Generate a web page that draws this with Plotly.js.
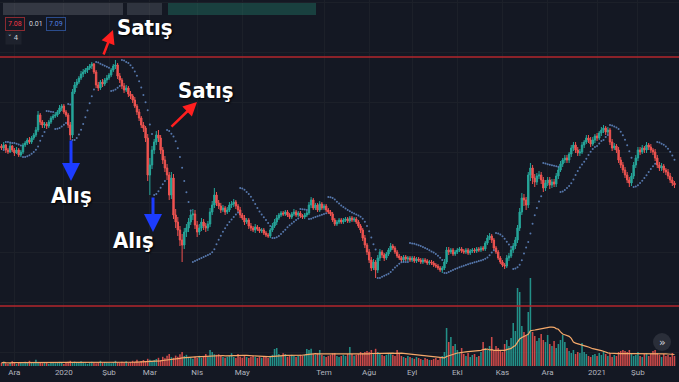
<!DOCTYPE html>
<html>
<head>
<meta charset="utf-8">
<script src="https://cdn.plot.ly/plotly-3.0.1.min.js"></script>
<style>html,body{margin:0;padding:0;background:#141823;}#chart{width:679px;height:382px;}</style>
</head>
<body>
<div id="chart"></div>
<script>
// ---- data ----
const tickLabels = ["Ara","2020","Şub","Mar","Nis","May","Tem","Ağu","Eyl","Ekl","Kas","Ara","2021","Şub"];
const tickIdx = [6,29,50,69,91,112,150,171,191,212,233,254,277,296];

const open = [
7.86,7.82,7.88,7.78,7.74,7.86,7.78,7.72,7.78,7.68,
7.74,7.88,7.92,7.98,7.94,8.02,8.08,8.18,8.48,8.34,
8.28,8.30,8.26,8.34,8.42,8.46,8.48,8.54,8.62,8.66,
8.54,8.48,8.28,8.08,8.94,9.08,9.14,9.22,9.30,9.34,
9.38,9.42,9.46,9.50,9.34,9.08,9.02,9.14,9.10,9.18,
9.22,9.28,9.38,9.46,9.48,9.26,9.18,9.06,8.98,9.02,
8.90,8.86,8.78,8.66,8.54,8.42,8.28,8.22,8.02,7.28,
7.48,7.78,7.94,8.08,8.02,7.78,7.58,7.42,7.28,6.88,
7.22,6.48,6.34,6.18,5.98,5.88,6.14,6.22,6.34,6.48,
6.50,6.28,6.14,6.22,6.34,6.26,6.22,6.30,6.54,6.68,
6.88,6.72,6.66,6.58,6.62,6.54,6.58,6.68,6.70,6.74,
6.66,6.58,6.48,6.42,6.34,6.38,6.26,6.22,6.18,6.24,
6.20,6.16,6.18,6.12,6.08,6.06,6.18,6.26,6.34,6.42,
6.48,6.52,6.50,6.54,6.48,6.44,6.50,6.54,6.48,6.52,
6.46,6.44,6.48,6.52,6.68,6.78,6.62,6.68,6.58,6.70,
6.62,6.66,6.58,6.54,6.50,6.38,6.30,6.34,6.38,6.34,
6.38,6.40,6.36,6.42,6.38,6.40,6.34,6.26,6.18,6.02,
5.88,5.74,5.58,5.42,5.54,5.38,5.62,5.74,5.68,5.62,
5.70,5.78,5.86,5.82,5.74,5.66,5.62,5.58,5.64,5.60,
5.62,5.58,5.62,5.56,5.60,5.58,5.54,5.58,5.56,5.52,
5.54,5.52,5.48,5.46,5.42,5.38,5.42,5.54,5.78,5.74,
5.78,5.70,5.74,5.78,5.80,5.76,5.74,5.78,5.72,5.76,
5.78,5.76,5.80,5.78,5.82,5.80,5.92,6.02,6.06,5.98,
5.82,5.74,5.62,5.54,5.48,5.46,5.62,5.66,5.78,5.86,
5.98,6.22,6.54,6.82,6.78,6.68,7.28,7.42,7.22,7.14,
7.26,7.28,7.18,7.02,7.12,7.18,7.08,7.14,7.10,7.26,
7.38,7.50,7.58,7.62,7.58,7.70,7.82,7.88,7.78,7.72,
7.74,7.88,7.94,8.02,7.98,7.90,7.98,8.06,8.02,8.12,
8.18,8.22,8.14,8.18,7.94,7.82,7.86,7.78,7.58,7.48,
7.38,7.28,7.18,7.12,7.26,7.48,7.62,7.78,7.74,7.82,
7.78,7.88,7.84,7.78,7.74,7.62,7.48,7.42,7.46,7.38,
7.34,7.26,7.18,7.12];

const high = [
7.90,7.94,7.90,7.82,7.92,7.88,7.82,7.84,7.82,7.78,
7.92,7.96,8.02,8.04,8.06,8.12,8.24,8.56,8.52,8.38,
8.34,8.34,8.38,8.46,8.50,8.54,8.58,8.68,8.70,8.70,
8.58,8.52,8.34,9.00,9.14,9.20,9.26,9.36,9.40,9.42,
9.46,9.50,9.54,9.52,9.38,9.14,9.18,9.20,9.22,9.28,
9.32,9.42,9.50,9.58,9.52,9.32,9.22,9.12,9.08,9.06,
8.96,8.90,8.84,8.70,8.60,8.46,8.34,8.26,8.10,7.62,
7.86,8.00,8.16,8.18,8.08,7.84,7.66,7.50,7.34,7.34,
7.30,6.60,6.44,6.26,6.10,6.22,6.30,6.42,6.56,6.60,
6.58,6.36,6.30,6.42,6.40,6.32,6.36,6.62,6.76,7.02,
6.94,6.78,6.72,6.68,6.66,6.64,6.74,6.76,6.80,6.78,
6.70,6.64,6.52,6.48,6.42,6.42,6.32,6.26,6.30,6.28,
6.24,6.22,6.22,6.16,6.12,6.22,6.32,6.40,6.48,6.52,
6.56,6.56,6.58,6.58,6.52,6.54,6.60,6.58,6.56,6.56,
6.50,6.52,6.56,6.74,6.84,6.82,6.72,6.72,6.76,6.74,
6.70,6.70,6.62,6.58,6.54,6.42,6.38,6.42,6.42,6.42,
6.44,6.44,6.46,6.46,6.44,6.44,6.38,6.30,6.22,6.08,
5.92,5.80,5.64,5.60,5.58,5.68,5.80,5.78,5.72,5.74,
5.82,5.92,5.90,5.86,5.78,5.70,5.66,5.68,5.68,5.66,
5.66,5.66,5.66,5.64,5.64,5.62,5.62,5.62,5.60,5.58,
5.58,5.56,5.52,5.50,5.46,5.46,5.60,5.84,5.84,5.82,
5.82,5.78,5.82,5.84,5.84,5.80,5.82,5.82,5.80,5.82,
5.82,5.84,5.84,5.86,5.86,5.96,6.08,6.12,6.10,6.02,
5.86,5.78,5.66,5.58,5.52,5.68,5.72,5.82,5.92,6.04,
6.28,6.62,6.92,6.90,6.84,7.34,7.52,7.48,7.30,7.32,
7.36,7.34,7.24,7.18,7.24,7.24,7.20,7.20,7.32,7.44,
7.56,7.62,7.68,7.68,7.74,7.88,7.94,7.94,7.84,7.80,
7.94,7.98,8.08,8.08,8.04,8.04,8.10,8.12,8.16,8.24,
8.28,8.26,8.24,8.22,8.00,7.92,7.90,7.84,7.64,7.54,
7.44,7.34,7.24,7.32,7.54,7.68,7.84,7.84,7.88,7.86,
7.94,7.92,7.90,7.82,7.80,7.68,7.54,7.52,7.50,7.42,
7.40,7.32,7.24,7.16];

const low = [
7.78,7.80,7.72,7.70,7.72,7.74,7.66,7.70,7.64,7.64,
7.70,7.84,7.88,7.90,7.90,7.98,8.04,8.14,8.28,8.22,
8.22,8.20,8.22,8.30,8.38,8.42,8.44,8.50,8.56,8.50,
8.44,8.22,7.98,8.02,8.90,9.02,9.10,9.18,9.24,9.30,
9.32,9.38,9.40,9.30,9.02,8.96,8.98,9.04,9.06,9.12,
9.18,9.24,9.34,9.40,9.20,9.12,9.00,8.92,8.94,8.84,
8.80,8.72,8.62,8.48,8.36,8.22,8.14,7.94,7.16,6.88,
7.40,7.70,7.88,7.94,7.70,7.50,7.34,7.18,6.78,6.80,
6.40,6.22,6.06,5.86,5.54,5.80,6.04,6.14,6.28,6.38,
6.20,6.04,6.08,6.16,6.18,6.14,6.16,6.24,6.48,6.62,
6.66,6.60,6.52,6.54,6.48,6.50,6.54,6.62,6.64,6.60,
6.54,6.42,6.38,6.28,6.30,6.20,6.16,6.14,6.12,6.16,
6.12,6.12,6.08,6.04,6.02,6.02,6.14,6.22,6.28,6.38,
6.44,6.46,6.46,6.44,6.40,6.40,6.46,6.44,6.44,6.42,
6.40,6.40,6.44,6.48,6.62,6.58,6.58,6.54,6.54,6.58,
6.58,6.54,6.50,6.46,6.34,6.26,6.26,6.30,6.30,6.30,
6.34,6.32,6.32,6.34,6.34,6.30,6.22,6.12,5.96,5.82,
5.68,5.52,5.36,5.38,5.22,5.32,5.56,5.62,5.56,5.58,
5.66,5.74,5.78,5.70,5.62,5.58,5.54,5.54,5.56,5.56,
5.54,5.54,5.52,5.52,5.54,5.50,5.50,5.52,5.48,5.48,
5.48,5.44,5.42,5.38,5.34,5.32,5.38,5.50,5.68,5.70,
5.66,5.66,5.70,5.74,5.72,5.70,5.70,5.68,5.68,5.72,
5.72,5.72,5.74,5.74,5.76,5.76,5.88,5.98,5.92,5.78,
5.70,5.58,5.50,5.44,5.40,5.42,5.56,5.62,5.72,5.80,
5.92,6.16,6.48,6.66,6.58,6.62,7.16,7.10,7.04,7.08,
7.20,7.10,6.94,6.96,7.06,7.00,7.02,7.04,7.04,7.20,
7.34,7.44,7.52,7.52,7.52,7.64,7.76,7.72,7.66,7.66,
7.70,7.82,7.90,7.92,7.84,7.86,7.92,7.96,7.98,8.06,
8.12,8.08,8.10,7.88,7.76,7.78,7.72,7.52,7.42,7.32,
7.22,7.12,7.04,7.06,7.20,7.42,7.56,7.68,7.70,7.72,
7.72,7.78,7.72,7.68,7.56,7.42,7.36,7.36,7.32,7.28,
7.20,7.12,7.06,7.02];

const close = [
7.82,7.88,7.78,7.74,7.86,7.78,7.72,7.78,7.68,7.74,
7.88,7.92,7.98,7.94,8.02,8.08,8.18,8.48,8.34,8.28,
8.30,8.26,8.34,8.42,8.46,8.48,8.54,8.62,8.66,8.54,
8.48,8.28,8.08,8.94,9.08,9.14,9.22,9.30,9.34,9.38,
9.42,9.46,9.50,9.34,9.08,9.02,9.14,9.10,9.18,9.22,
9.28,9.38,9.46,9.48,9.26,9.18,9.06,8.98,9.02,8.90,
8.86,8.78,8.66,8.54,8.42,8.28,8.22,8.02,7.28,7.48,
7.78,7.94,8.08,8.02,7.78,7.58,7.42,7.28,6.88,7.22,
6.48,6.34,6.18,5.98,5.88,6.14,6.22,6.34,6.48,6.50,
6.28,6.14,6.22,6.34,6.26,6.22,6.30,6.54,6.68,6.88,
6.72,6.66,6.58,6.62,6.54,6.58,6.68,6.70,6.74,6.66,
6.58,6.48,6.42,6.34,6.38,6.26,6.22,6.18,6.24,6.20,
6.16,6.18,6.12,6.08,6.06,6.18,6.26,6.34,6.42,6.48,
6.52,6.50,6.54,6.48,6.44,6.50,6.54,6.48,6.52,6.46,
6.44,6.48,6.52,6.68,6.78,6.62,6.68,6.58,6.70,6.62,
6.66,6.58,6.54,6.50,6.38,6.30,6.34,6.38,6.34,6.38,
6.40,6.36,6.42,6.38,6.40,6.34,6.26,6.18,6.02,5.88,
5.74,5.58,5.42,5.54,5.38,5.62,5.74,5.68,5.62,5.70,
5.78,5.86,5.82,5.74,5.66,5.62,5.58,5.64,5.60,5.62,
5.58,5.62,5.56,5.60,5.58,5.54,5.58,5.56,5.52,5.54,
5.52,5.48,5.46,5.42,5.38,5.42,5.54,5.78,5.74,5.78,
5.70,5.74,5.78,5.80,5.76,5.74,5.78,5.72,5.76,5.78,
5.76,5.80,5.78,5.82,5.80,5.92,6.02,6.06,5.98,5.82,
5.74,5.62,5.54,5.48,5.46,5.62,5.66,5.78,5.86,5.98,
6.22,6.54,6.82,6.78,6.68,7.28,7.42,7.22,7.14,7.26,
7.28,7.18,7.02,7.12,7.18,7.08,7.14,7.10,7.26,7.38,
7.50,7.58,7.62,7.58,7.70,7.82,7.88,7.78,7.72,7.74,
7.88,7.94,8.02,7.98,7.90,7.98,8.06,8.02,8.12,8.18,
8.22,8.14,8.18,7.94,7.82,7.86,7.78,7.58,7.48,7.38,
7.28,7.18,7.12,7.26,7.48,7.62,7.78,7.74,7.82,7.78,
7.88,7.84,7.78,7.74,7.62,7.48,7.42,7.46,7.38,7.34,
7.26,7.18,7.12,7.08];

// volume, thousand lots
const volume = [
160,210,140,110,150,240,170,100,190,150,
140,210,150,260,150,190,310,200,160,140,
200,150,110,160,190,140,150,210,160,100,
150,210,260,160,220,150,200,240,160,140,
110,150,210,160,140,190,260,150,200,160,
150,140,200,260,190,160,210,190,240,150,
200,260,210,310,190,250,300,240,360,310,
260,300,350,410,300,460,390,510,600,440,
410,520,460,590,700,500,560,450,410,360,
460,400,510,410,450,600,490,800,700,590,
560,590,500,450,410,460,500,640,450,400,
600,460,410,500,450,400,460,510,450,400,
460,410,500,450,400,510,560,850,900,600,
510,640,600,460,500,560,500,450,510,560,
500,560,850,800,860,600,560,640,800,560,
500,450,510,560,640,650,500,450,500,560,
500,600,950,600,510,560,600,700,650,700,
750,700,800,650,860,700,600,560,500,560,
600,650,560,500,800,600,500,450,400,500,
450,400,360,450,400,350,300,400,350,300,
300,350,400,300,450,500,700,1900,1200,1450,
1000,1100,800,700,900,600,500,650,450,550,
600,450,500,700,1200,900,800,1000,1450,800,
1000,900,800,700,1100,1300,1000,1400,2150,1750,
3900,3700,2000,1700,1500,2700,4400,1700,1500,1250,
1400,1600,1300,1200,1550,1100,1000,1250,900,1100,
1300,1550,1200,900,750,650,800,600,700,650,
1150,700,600,500,450,550,600,500,650,550,
750,600,500,650,450,550,500,700,750,800,
750,700,800,600,500,550,700,500,450,600,
650,500,600,750,800,650,550,450,600,500,
550,450,650,500];

// user-drawn horizontal levels
const levels = [9.64, 4.66];

// ---- indicators computed from the data ----
const idx = close.map((_, i) => i);

function parabolicSar(h, l, c) {
  const out = [null];
  let up = c[1] > c[0];
  let af = 0.02, ep = up ? h[0] : l[0], sar = up ? l[0] : h[0];
  for (let i = 1; i < c.length; i++) {
    let s = sar + af * (ep - sar);
    if (up) {
      s = Math.min(s, l[i - 1], l[Math.max(i - 2, 0)]);
      if (l[i] < s) { up = false; s = ep; ep = l[i]; af = 0.02; }
      else if (h[i] > ep) { ep = h[i]; af = Math.min(af + 0.02, 0.2); }
    } else {
      s = Math.max(s, h[i - 1], h[Math.max(i - 2, 0)]);
      if (h[i] > s) { up = true; s = ep; ep = h[i]; af = 0.02; }
      else if (l[i] < ep) { ep = l[i]; af = Math.min(af + 0.02, 0.2); }
    }
    sar = s; out.push(s);
  }
  return out;
}
function sma(v, n) {
  return v.map((_, i) => {
    const a = Math.max(0, i - n + 1);
    let s = 0; for (let k = a; k <= i; k++) s += v[k];
    return s / (i - a + 1);
  });
}
const sar = parabolicSar(high, low, close);
const volMa = sma(volume, 20);
const volColors = close.map((c, i) => c >= open[i] ? 'rgba(38,166,154,0.85)' : 'rgba(239,83,80,0.85)');

const UP = '#26a69a', DN = '#ef5350', BG = '#141823';

const traces = [
  { type: 'bar', x: idx, y: volume, yaxis: 'y2', marker: { color: volColors, line: { width: 0 } }, width: 0.72, hoverinfo: 'skip' },
  { type: 'scatter', mode: 'lines', x: idx, y: volMa, yaxis: 'y2', line: { color: '#f5a96a', width: 1.2 }, hoverinfo: 'skip' },
  { type: 'candlestick', x: idx, open: open, high: high, low: low, close: close,
    increasing: { line: { color: UP, width: 1 }, fillcolor: UP },
    decreasing: { line: { color: DN, width: 1 }, fillcolor: DN },
    whiskerwidth: 0, hoverinfo: 'skip' },
  { type: 'scatter', mode: 'markers', x: idx, y: sar, marker: { size: 2, color: 'rgba(98,136,196,0.85)' }, hoverinfo: 'skip' }
];

const H = 366; // plot height in px
const px = x => x / 679, py = y => (H - y) / H;
const labelFont = { family: 'DejaVu Sans Condensed, Liberation Sans Narrow, Arial Narrow, sans-serif', size: 22, color: '#ffffff', weight: 'bold', shadow: '1px 1px 2px #000' };
const C = { xanchor: 'center', yanchor: 'middle', xref: 'paper', yref: 'paper' };

const annotations = [
  Object.assign({ x: px(145), y: py(28), text: 'Satış', showarrow: false, font: labelFont }, C),
  Object.assign({ x: px(206), y: py(90), text: 'Satış', showarrow: false, font: labelFont }, C),
  Object.assign({ x: px(71), y: py(195), text: 'Alış', showarrow: false, font: labelFont }, C),
  Object.assign({ x: px(133), y: py(241), text: 'Alış', showarrow: false, font: labelFont }, C),
  { xref: 'paper', yref: 'paper', x: px(113), y: py(30), ax: -10, ay: 26, text: '', showarrow: true, arrowhead: 2, arrowsize: 1.1, arrowwidth: 2.5, arrowcolor: '#ff1f1f', standoff: 0 },
  { xref: 'paper', yref: 'paper', x: px(197), y: py(102), ax: -27, ay: 26, text: '', showarrow: true, arrowhead: 2, arrowsize: 1.1, arrowwidth: 2.5, arrowcolor: '#ff1f1f', standoff: 0 },
  { xref: 'paper', yref: 'paper', x: px(71), y: py(181), ax: 0, ay: -42, text: '', showarrow: true, arrowhead: 2, arrowsize: 1.2, arrowwidth: 3, arrowcolor: '#1c3cff', standoff: 0 },
  { xref: 'paper', yref: 'paper', x: px(153), y: py(232), ax: 0, ay: -36, text: '', showarrow: true, arrowhead: 2, arrowsize: 1.2, arrowwidth: 3, arrowcolor: '#1c3cff', standoff: 0 },
  Object.assign({ x: px(15), y: py(24), text: '7.08', showarrow: false, font: { family: 'Roboto, sans-serif', size: 7, color: '#f23645' }, bordercolor: '#8a2a31', borderwidth: 1, borderpad: 2, bgcolor: BG }, C),
  Object.assign({ x: px(35.5), y: py(24), text: '0.01', showarrow: false, font: { family: 'Roboto, sans-serif', size: 7, color: '#d1d4dc' } }, C),
  Object.assign({ x: px(56), y: py(24), text: '7.09', showarrow: false, font: { family: 'Roboto, sans-serif', size: 7, color: '#4f7fe0' }, bordercolor: '#2b4c8c', borderwidth: 1, borderpad: 2, bgcolor: BG }, C),
  Object.assign({ x: px(13), y: py(38), text: '˅ 4', showarrow: false, font: { family: 'DejaVu Sans, sans-serif', size: 7, color: '#d1d4dc' }, bgcolor: '#1e222d', borderpad: 2 }, C),
  Object.assign({ x: px(662), y: py(342), text: '»', showarrow: false, font: { family: 'DejaVu Sans, sans-serif', size: 11, color: '#d1d4dc' } }, C)
];

const shapes = levels.map(v => ({ type: 'line', xref: 'paper', x0: 0, x1: 1, yref: 'y', y0: v, y1: v, line: { color: '#b3262d', width: 1.5 } }));
shapes.push(
  { type: 'rect', xref: 'paper', yref: 'paper', x0: px(3), x1: px(123), y0: py(15), y1: py(3), fillcolor: 'rgba(120,124,136,0.32)', line: { width: 0 } },
  { type: 'rect', xref: 'paper', yref: 'paper', x0: px(127), x1: px(162), y0: py(15), y1: py(3), fillcolor: 'rgba(120,124,136,0.28)', line: { width: 0 } },
  { type: 'rect', xref: 'paper', yref: 'paper', x0: px(168), x1: px(316), y0: py(15), y1: py(3), fillcolor: 'rgba(38,150,125,0.32)', line: { width: 0 } },
  { type: 'circle', xref: 'paper', yref: 'paper', x0: px(653), x1: px(671), y0: py(351), y1: py(333), fillcolor: '#2a2e39', line: { width: 0 } }
);

const layout = {
  width: 679, height: 382,
  margin: { l: 0, r: 0, t: 0, b: 16, pad: 0 },
  paper_bgcolor: BG, plot_bgcolor: BG,
  showlegend: false,
  boxgap: 0.2, boxgroupgap: 0.2,
  xaxis: {
    range: [-0.7, 315.1], tickmode: 'array', tickvals: tickIdx, ticktext: tickLabels,
    tickfont: { family: 'Roboto, sans-serif', size: 8, color: '#b2b5be' },
    showgrid: true, gridcolor: '#1c2029', gridwidth: 1, zeroline: false, showline: false,
    ticks: '', rangeslider: { visible: false }, fixedrange: true
  },
  yaxis: {
    range: [3.46, 10.78], showticklabels: false, showgrid: true, gridcolor: '#1c2029',
    tick0: 5.74, dtick: 1, zeroline: false, fixedrange: true
  },
  yaxis2: { overlaying: 'y', range: [0, 18300], visible: false, fixedrange: true },
  bargap: 0.2,
  shapes: shapes,
  annotations: annotations
};

Plotly.newPlot('chart', traces, layout, { displayModeBar: false, staticPlot: true });
</script>
</body>
</html>
